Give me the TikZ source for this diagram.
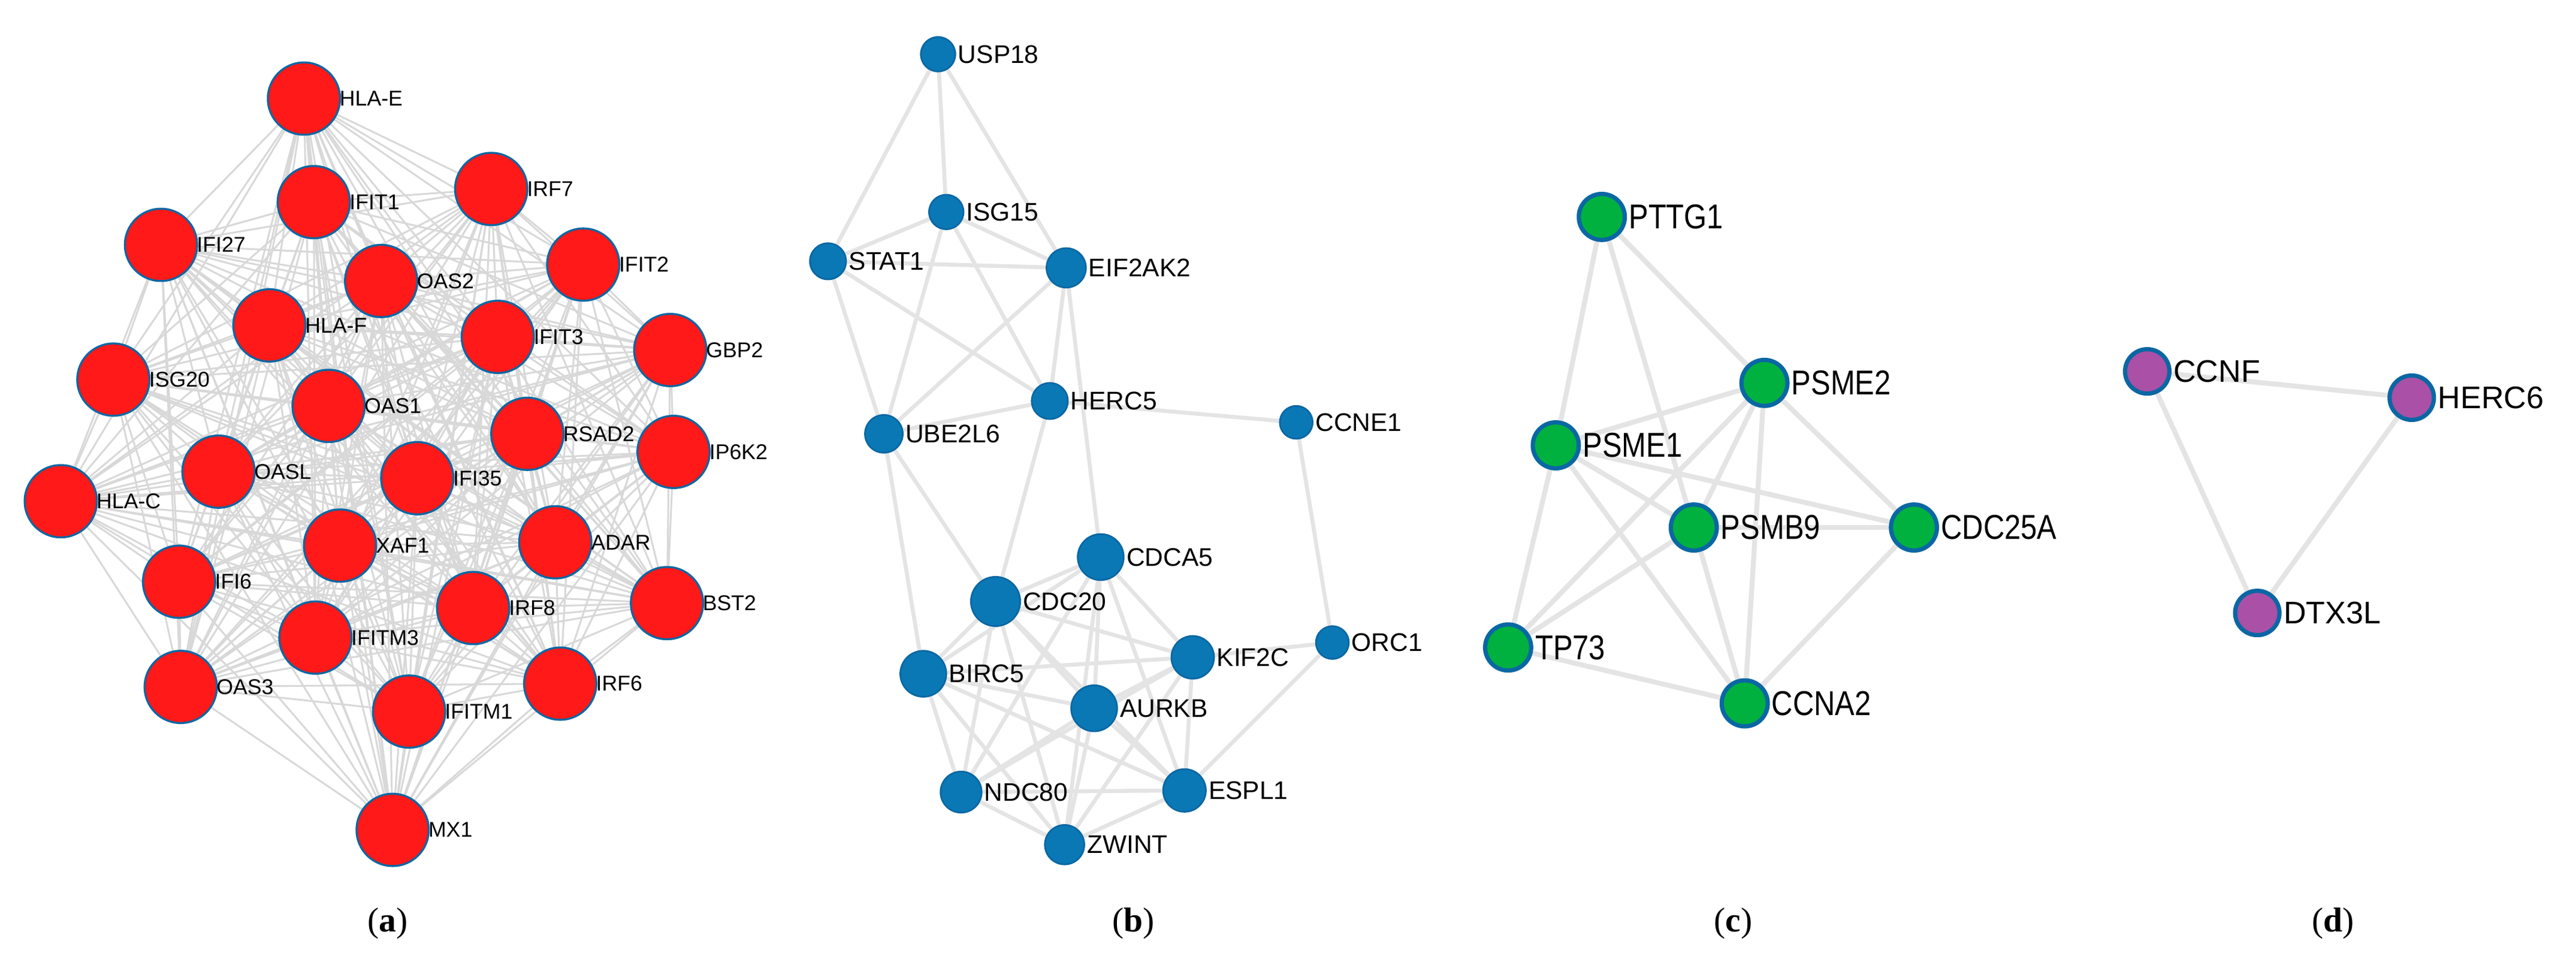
\documentclass[tikz,border=0pt]{standalone}
\usepackage{fontspec}
\setmainfont{Liberation Serif}
\newfontfamily\lab{Liberation Sans}
\newfontfamily\labn{Liberation Sans}[FakeStretch=0.85]
\usetikzlibrary{backgrounds}
\definecolor{nred}{HTML}{FF1919}
\definecolor{nblue}{HTML}{0A78B5}
\definecolor{bord}{HTML}{0A67A3}
\definecolor{ngreen}{HTML}{00B140}
\definecolor{npurp}{HTML}{AA50A6}
\definecolor{edg}{HTML}{E4E4E4}
\definecolor{edga}{HTML}{D8D8D8}
\tikzset{
  gn/.style={circle,draw=bord,inner sep=0pt},
  ra/.style={gn,fill=nred,minimum size=44pt,line width=1.2pt},
  bb/.style={gn,fill=nblue,line width=1pt},
  cg/.style={gn,fill=ngreen,minimum size=28pt,line width=2.6pt},
  dp/.style={gn,fill=npurp,minimum size=27pt,line width=2.6pt},
  la/.style={label={[anchor=west,inner sep=0pt,xshift=-1pt,font=\lab\fontsize{13}{13}\selectfont]east:#1}},
  lb/.style={label={[anchor=west,inner sep=0pt,xshift=1pt,font=\lab\fontsize{15.5}{15.5}\selectfont]east:#1}},
  lc/.style={label={[anchor=west,inner sep=0pt,xshift=1pt,font=\labn\fontsize{21}{21}\selectfont]east:#1}},
  ld/.style={label={[anchor=west,inner sep=0pt,xshift=1pt,font=\lab\fontsize{19}{19}\selectfont]east:#1}},
  ea/.style={draw=edga,line width=1.1pt},
  eb/.style={draw=edg,line width=2.4pt},
  ec/.style={draw=edg,line width=3pt},
  captxt/.style={font=\fontsize{21}{21}\selectfont}
}
\begin{document}
\begin{tikzpicture}[x=1pt,y=-1pt]
\useasboundingbox (0,0) rectangle (1568,589);
% panel a
\foreach \n/\x/\y in {HLA-E/185/60,IFIT1/191/123,IRF7/299/115,IFI27/98/149,OAS2/232/171,IFIT2/355/161,HLA-F/164/198,IFIT3/303/205,GBP2/408/213,ISG20/69/231,OAS1/200/247,RSAD2/321/264,IP6K2/410/275,OASL/133/287,IFI35/254/291,HLA-C/37/305,XAF1/207/332,ADAR/338/330,IFI6/109/354,IRF8/288/370,BST2/406/367,IFITM3/192/388,IRF6/341/416,OAS3/110/418,IFITM1/249/433,MX1/239/505}
  \node[ra,la=\n] (\n) at (\x,\y) {};
\begin{pgfonlayer}{background}
\fill[white] (0,0) rectangle (1568,589);
\foreach \a [count=\k] in {HLA-E,IFIT1,IRF7,IFI27,OAS2,IFIT2,HLA-F,IFIT3,GBP2,ISG20,OAS1,RSAD2,IP6K2,OASL,IFI35,HLA-C,XAF1,ADAR,IFI6,IRF8,BST2,IFITM3,IRF6,OAS3,IFITM1,MX1}
  \foreach \b [count=\m] in {HLA-E,IFIT1,IRF7,IFI27,OAS2,IFIT2,HLA-F,IFIT3,GBP2,ISG20,OAS1,RSAD2,IP6K2,OASL,IFI35,HLA-C,XAF1,ADAR,IFI6,IRF8,BST2,IFITM3,IRF6,OAS3,IFITM1,MX1}
    {\ifnum\k<\m \draw[ea] (\a) -- (\b);\fi}
\end{pgfonlayer}
% panel b
\foreach \n/\x/\y/\r in {USP18/571/33/21,ISG15/576/129/21,STAT1/504/159/22,EIF2AK2/649/163/24,HERC5/639/244/22,UBE2L6/538/264/23,CCNE1/789/257/20,CDCA5/670/339/28,CDC20/606/366/30,BIRC5/562/410/28,KIF2C/726/400/26,AURKB/666/431/28,ORC1/811/391/20,NDC80/585/482/25,ESPL1/721/481/26,ZWINT/648/514/24}
  \node[bb,minimum size=\r pt,lb=\n] (\n) at (\x,\y) {};
\begin{pgfonlayer}{background}
\foreach \a/\b in {USP18/ISG15,USP18/STAT1,USP18/EIF2AK2,ISG15/STAT1,ISG15/EIF2AK2,ISG15/UBE2L6,ISG15/HERC5,STAT1/EIF2AK2,STAT1/UBE2L6,STAT1/HERC5,EIF2AK2/UBE2L6,EIF2AK2/HERC5,EIF2AK2/CDCA5,UBE2L6/HERC5,UBE2L6/CDC20,UBE2L6/BIRC5,HERC5/CDC20,HERC5/CCNE1,CCNE1/ORC1,ORC1/KIF2C,ORC1/ESPL1}
  \draw[eb] (\a) -- (\b);
\foreach \a [count=\k] in {CDC20,CDCA5,BIRC5,KIF2C,AURKB,NDC80,ESPL1,ZWINT}
  \foreach \b [count=\m] in {CDC20,CDCA5,BIRC5,KIF2C,AURKB,NDC80,ESPL1,ZWINT}
    {\ifnum\k<\m \draw[eb] (\a) -- (\b);\fi}
\end{pgfonlayer}
% panel c
\foreach \n/\x/\y in {PTTG1/975/132,PSME2/1074/233,PSME1/947/271,PSMB9/1031/321,CDC25A/1165/321,TP73/918/394,CCNA2/1062/428}
  \node[cg,lc=\n] (\n) at (\x,\y) {};
\begin{pgfonlayer}{background}
\foreach \a/\b in {PTTG1/PSME1,PTTG1/PSMB9,PTTG1/PSME2,PSME2/PSME1,PSME2/TP73,PSME2/PSMB9,PSME2/CCNA2,PSME2/CDC25A,PSME1/PSMB9,PSME1/CDC25A,PSME1/TP73,PSME1/CCNA2,PSMB9/CDC25A,PSMB9/TP73,PSMB9/CCNA2,CDC25A/CCNA2,TP73/CCNA2}
  \draw[ec] (\a) -- (\b);
\end{pgfonlayer}
% panel d
\foreach \n/\x/\y in {CCNF/1307/226,HERC6/1468/242,DTX3L/1374/373}
  \node[dp,ld=\n] (\n) at (\x,\y) {};
\begin{pgfonlayer}{background}
\foreach \a/\b in {CCNF/HERC6,CCNF/DTX3L,HERC6/DTX3L}
  \draw[ec] (\a) -- (\b);
\end{pgfonlayer}
% captions
\node[captxt] (ca) at (236,562) {(\textbf{a})};
\node[captxt] (cb) at (690,562) {(\textbf{b})};
\node[captxt] (cc) at (1055,562) {(\textbf{c})};
\node[captxt] (cd) at (1420,562) {(\textbf{d})};
\end{tikzpicture}
\end{document}
